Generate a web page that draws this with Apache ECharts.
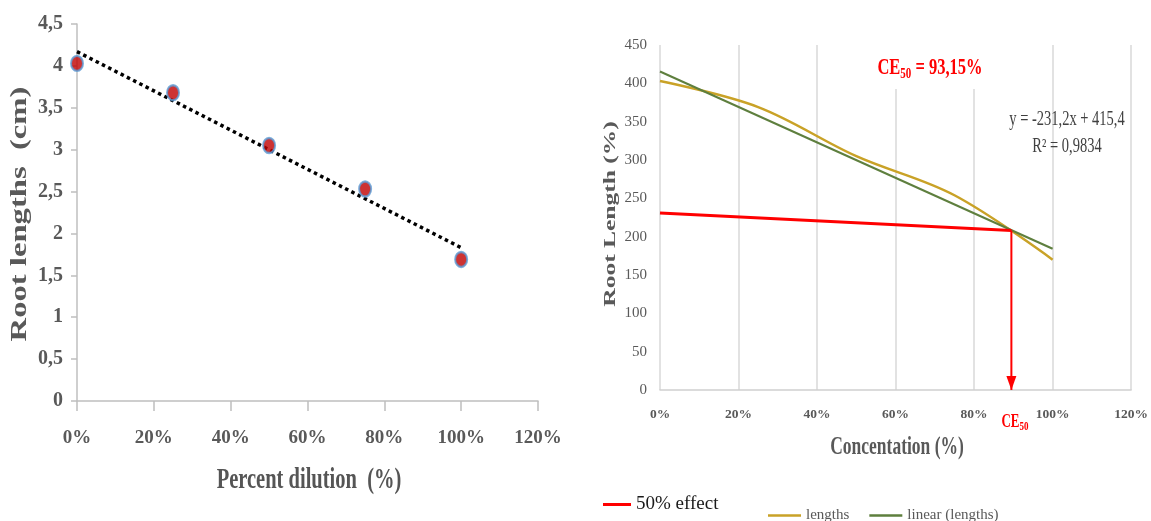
<!DOCTYPE html>
<html>
<head>
<meta charset="utf-8">
<script src="https://cdn.jsdelivr.net/npm/echarts@6/dist/echarts.min.js"></script>
<style>
  html, body { margin: 0; padding: 0; background: #fff; }
  #chart { width: 1151px; height: 521px; }
</style>
</head>
<body>
<div id="chart"></div>
<script>
// left panel: root length (cm) against dilution
const dilution = [0, 0.25, 0.5, 0.75, 1];
const rootCm = [4.03, 3.68, 3.05, 2.53, 1.69];
const trendCm = [[0, 4.17], [1, 1.83]];

// right panel: root length (%) against concentration
const conc = [0, 0.25, 0.5, 0.75, 1];
const rootPct = [403, 369, 305, 254, 170];
const linearPct = [[0, 415.4], [1, 184.2]];
const effect50 = [[0, 231], [0.895, 208]];
const ce50Drop = [[0.895, 208], [0.895, 0]];

const SERIF = '"Liberation Serif", "Times New Roman", serif';
const GREY = '#595959';

const chart = echarts.init(document.getElementById('chart'));

const pctLabel = v => Math.round(v * 100) + '%';
const commaLabel = v => String(v).replace('.', ',');

// text drawn as graphic so it can be stretched like the original picture
function txt(text, x, y, size, opts) {
  opts = opts || {};
  return {
    type: 'text',
    x: x,
    y: y,
    rotation: opts.rotation || 0,
    scaleX: opts.scaleX || 1,
    scaleY: opts.scaleY || 1,
    z: 20,
    style: {
      text: text,
      fontFamily: SERIF,
      fontSize: size,
      fontWeight: opts.bold ? 'bold' : 'normal',
      fill: opts.color || GREY,
      textAlign: 'center',
      textVerticalAlign: 'middle',
      rich: opts.rich
    }
  };
}

const option = {
  backgroundColor: '#fff',
  animation: false,
  grid: [
    { left: 77, top: 24, width: 461, height: 377 },
    { left: 660, top: 45, width: 473, height: 345 }
  ],
  xAxis: [
    {
      gridIndex: 0, type: 'value', min: 0, max: 1.2, interval: 0.2,
      axisLine: { show: true, lineStyle: { color: '#bfbfbf', width: 1.5 } },
      axisTick: { show: true, length: 10, lineStyle: { color: '#bfbfbf', width: 1.5 } },
      splitLine: { show: false },
      axisLabel: { formatter: pctLabel, margin: 28, fontFamily: SERIF, fontSize: 19, fontWeight: 'bold', color: GREY }
    },
    {
      gridIndex: 1, type: 'value', min: 0, max: 1.2, interval: 0.2,
      axisLine: { show: true, lineStyle: { color: '#d0d0d0', width: 1.5 } },
      axisTick: { show: false },
      splitLine: { show: true, lineStyle: { color: '#d9d9d9', width: 1.5 } },
      axisLabel: { formatter: pctLabel, margin: 18, fontFamily: SERIF, fontSize: 13.5, fontWeight: 'bold', color: GREY }
    }
  ],
  yAxis: [
    {
      gridIndex: 0, type: 'value', min: 0, max: 4.5, interval: 0.5,
      axisLine: { show: true, lineStyle: { color: '#bfbfbf', width: 1.5 } },
      axisTick: { show: true, length: 6, lineStyle: { color: '#bfbfbf', width: 1.5 } },
      splitLine: { show: false },
      axisLabel: { formatter: commaLabel, margin: 14, fontFamily: SERIF, fontSize: 20, fontWeight: 'bold', color: GREY }
    },
    {
      gridIndex: 1, type: 'value', min: 0, max: 450, interval: 50,
      axisLine: { show: false },
      axisTick: { show: false },
      splitLine: { show: false },
      axisLabel: { margin: 13, fontFamily: SERIF, fontSize: 15, color: GREY }
    }
  ],
  legend: [
    {
      data: ['50% effect'], left: 598, top: 490, icon: 'rect',
      itemWidth: 28, itemHeight: 3, selectedMode: false,
      textStyle: { fontFamily: SERIF, fontSize: 19, color: '#1a1a1a' }
    },
    {
      data: ['lengths', 'linear (lengths)'], left: 763, top: 503, icon: 'rect',
      itemWidth: 33, itemHeight: 2.5, itemGap: 20, selectedMode: false,
      textStyle: { fontFamily: SERIF, fontSize: 15, color: GREY }
    }
  ],
  series: [
    {
      name: 'trend', type: 'line', xAxisIndex: 0, yAxisIndex: 0,
      data: trendCm, showSymbol: false, z: 2,
      lineStyle: { color: '#000', width: 3.5, type: [3.5, 3.5] }
    },
    {
      name: 'root', type: 'scatter', xAxisIndex: 0, yAxisIndex: 0, z: 3,
      data: dilution.map((d, i) => [d, rootCm[i]]),
      symbolSize: [12, 15],
      itemStyle: { color: '#c00000', borderColor: '#5b9bd5', borderWidth: 2.2 }
    },
    {
      name: 'lengths', type: 'line', xAxisIndex: 1, yAxisIndex: 1,
      data: conc.map((c, i) => [c, rootPct[i]]),
      smooth: 0.35, showSymbol: false, color: '#c9a227',
      lineStyle: { color: '#c9a227', width: 2.5 }
    },
    {
      name: 'linear (lengths)', type: 'line', xAxisIndex: 1, yAxisIndex: 1,
      data: linearPct, showSymbol: false, color: '#5e7f3e',
      lineStyle: { color: '#5e7f3e', width: 2 }
    },
    {
      name: '50% effect', type: 'line', xAxisIndex: 1, yAxisIndex: 1,
      data: effect50, showSymbol: false, color: '#ff0000', z: 4,
      lineStyle: { color: '#ff0000', width: 3 }
    },
    {
      name: 'ce50', type: 'line', xAxisIndex: 1, yAxisIndex: 1, z: 4,
      data: [
        { value: ce50Drop[0], symbol: 'none' },
        { value: ce50Drop[1], symbol: 'triangle', symbolSize: [10, 14], symbolRotate: 180, symbolOffset: [0, -7] }
      ],
      showSymbol: true, color: '#ff0000',
      itemStyle: { color: '#ff0000' },
      lineStyle: { color: '#ff0000', width: 2 }
    }
  ],
  graphic: [
    txt('Root lengths  (cm)', 20, 214, 23, { bold: true, rotation: Math.PI / 2, scaleX: 1.42 }),
    txt('Percent dilution  (%)', 309, 480, 20.5, { bold: true, scaleY: 1.45, color: '#555' }),
    txt('Root Length (%)', 611, 214, 17, { bold: true, rotation: Math.PI / 2, scaleX: 1.5 }),
    txt('Concentation (%)', 897, 448, 17.5, { bold: true, scaleY: 1.4 }),
    {
      type: 'rect', z: 15,
      shape: { x: 862, y: 44, width: 128, height: 45 },
      style: { fill: '#fff' }
    },
    txt('{a|CE}{b|50}{a| = 93,15%}', 930, 68, 16.5, {
      color: '#ff0000', scaleY: 1.4,
      rich: {
        a: { fontFamily: SERIF, fontSize: 16.5, fontWeight: 'bold', fill: '#ff0000', lineHeight: 20 },
        b: { fontFamily: SERIF, fontSize: 11, fontWeight: 'bold', fill: '#ff0000', lineHeight: 10, verticalAlign: 'bottom' }
      }
    }),
    txt('y = -231,2x + 415,4', 1067, 120, 14.5, { color: '#404040', scaleY: 1.4 }),
    txt('R² = 0,9834', 1067, 147, 14.5, { color: '#404040', scaleY: 1.4 }),
    txt('{a|CE}{b|50}', 1015, 422, 13, {
      color: '#ff0000', scaleY: 1.4,
      rich: {
        a: { fontFamily: SERIF, fontSize: 13, fontWeight: 'bold', fill: '#ff0000', lineHeight: 16 },
        b: { fontFamily: SERIF, fontSize: 9, fontWeight: 'bold', fill: '#ff0000', lineHeight: 8, verticalAlign: 'bottom' }
      }
    })
  ]
};

chart.setOption(option);
window.addEventListener('resize', () => chart.resize());
</script>
</body>
</html>
